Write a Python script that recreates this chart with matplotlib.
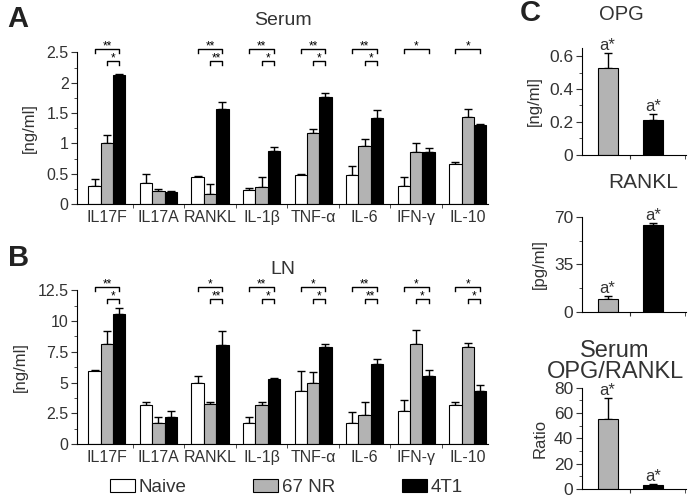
import matplotlib.pyplot as plt
import matplotlib.transforms as mtransforms
from matplotlib.ticker import MultipleLocator
from matplotlib.patches import Patch
import numpy as np

plt.rcParams['font.family'] = ['Liberation Sans', 'DejaVu Sans']
plt.rcParams['text.color'] = '#333333'
plt.rcParams['axes.labelcolor'] = '#333333'
plt.rcParams['xtick.color'] = '#333333'
plt.rcParams['ytick.color'] = '#333333'

cytokines = ['IL17F', 'IL17A', 'RANKL', 'IL-1β', 'TNF-α', 'IL-6', 'IFN-γ', 'IL-10']
groups = ['Naive', '67 NR', '4T1']
colors = ['white', '#b3b3b3', 'black']

# serum, ng/ml
serum_naive = [0.30, 0.35, 0.45, 0.23, 0.48, 0.48, 0.30, 0.66]
serum_67nr = [1.01, 0.22, 0.16, 0.29, 1.17, 0.95, 0.86, 1.43]
serum_4t1 = [2.13, 0.20, 1.57, 0.88, 1.77, 1.42, 0.86, 1.30]
serum_naive_err = [0.12, 0.14, 0.02, 0.03, 0.02, 0.15, 0.15, 0.03]
serum_67nr_err = [0.13, 0.03, 0.18, 0.15, 0.06, 0.13, 0.15, 0.13]
serum_4t1_err = [0.01, 0.01, 0.12, 0.06, 0.06, 0.13, 0.06, 0.02]
serum_sig_all = ['**', None, '**', '**', '**', '**', '*', '*']
serum_sig_67 = ['*', None, '**', '*', '*', '*', None, None]

# lymph node, ng/ml
ln_naive = [5.9, 3.2, 5.0, 1.7, 4.35, 1.7, 2.7, 3.2]
ln_67nr = [8.1, 1.7, 3.3, 3.15, 4.95, 2.35, 8.1, 7.85]
ln_4t1 = [10.6, 2.2, 8.05, 5.3, 7.85, 6.5, 5.55, 4.35]
ln_naive_err = [0.1, 0.25, 0.5, 0.5, 1.55, 0.9, 0.85, 0.25]
ln_67nr_err = [1.1, 0.5, 0.15, 0.25, 0.9, 1.05, 1.15, 0.35]
ln_4t1_err = [0.45, 0.5, 1.1, 0.05, 0.3, 0.45, 0.45, 0.45]
ln_sig_all = ['**', None, '*', '**', '*', '**', '*', '*']
ln_sig_67 = ['*', None, '**', '*', '*', '**', '*', '*']

# panel C
opg = [0.53, 0.21]
opg_err = [0.09, 0.04]
rankl = [9.4, 64.2]
rankl_err = [2.2, 1.1]
ratio = [55, 3.4]
ratio_err = [17, 0.3]

fig = plt.figure(figsize=(7, 5.03), dpi=100)

x = np.arange(len(cytokines))
width = 0.24


def cytokine_panel(ax, vals, errs, sig_all, sig_67, ymax, major, minor, title, tpad):
    for i, (v, e) in enumerate(zip(vals, errs)):
        pos = x + (i - 1) * width
        ax.bar(pos, v, width, color=colors[i], edgecolor='black', linewidth=0.8, zorder=2)
        ax.errorbar(pos, v, yerr=[np.zeros(len(v)), e], fmt='none', ecolor='black',
                    elinewidth=1, capsize=3, capthick=1, zorder=1)
    trans = mtransforms.blended_transform_factory(ax.transData, ax.transAxes)
    for k in range(len(cytokines)):
        for sig, x0, yb in ((sig_all[k], x[k] - width, 1.02), (sig_67[k], x[k], 0.94)):
            if sig is None:
                continue
            x1 = x[k] + width
            ax.plot([x0, x0, x1, x1], [yb - 0.025, yb, yb, yb - 0.025], color='black',
                    lw=1, transform=trans, clip_on=False)
            ax.text((x0 + x1) / 2, yb - 0.02, sig, ha='center', va='bottom', fontsize=8.5,
                    transform=trans, color='black')
    ax.set_xlim(-0.58, 7.39)
    ax.set_ylim(0, ymax)
    ax.yaxis.set_major_locator(MultipleLocator(major))
    ax.yaxis.set_minor_locator(MultipleLocator(minor))
    ax.yaxis.set_major_formatter(plt.FuncFormatter(lambda v, p: f'{v:g}'))
    ax.set_xticks(x, cytokines, fontsize=11.5)
    ax.set_xticks(x[:-1] + 0.5, minor=True)
    ax.tick_params(axis='x', which='major', length=0, pad=4)
    ax.tick_params(axis='x', which='minor', length=3)
    ax.tick_params(axis='y', labelsize=11.5, length=4, pad=2)
    ax.tick_params(axis='y', which='minor', length=2)
    ax.spines[['top', 'right']].set_visible(False)
    ax.set_ylabel('[ng/ml]', fontsize=12, labelpad=7)
    ax.set_title(title, fontsize=14, pad=tpad)


ax_a = fig.add_axes([0.110, 0.594, 0.587, 0.302])
cytokine_panel(ax_a, [serum_naive, serum_67nr, serum_4t1],
               [serum_naive_err, serum_67nr_err, serum_4t1_err],
               serum_sig_all, serum_sig_67, 2.5, 0.5, 0.25, 'Serum', 20)

ax_b = fig.add_axes([0.110, 0.117, 0.587, 0.306])
cytokine_panel(ax_b, [ln_naive, ln_67nr, ln_4t1],
               [ln_naive_err, ln_67nr_err, ln_4t1_err],
               ln_sig_all, ln_sig_67, 12.5, 2.5, 1.25, 'LN', 12)


def small_panel(rect, vals, errs, ymax, major, minor, ylabel, title, tsize, tpad, tx):
    ax = fig.add_axes(rect)
    pos = np.arange(2)
    ax.bar(pos, vals, 0.44, color=colors[1:], edgecolor='black', linewidth=0.8, zorder=2)
    ax.errorbar(pos, vals, yerr=[np.zeros(2), errs], fmt='none', ecolor='black',
                elinewidth=1, capsize=3, capthick=1, zorder=1)
    for p, v, e in zip(pos, vals, errs):
        ax.text(p, v + e, 'a*', ha='center', va='bottom', fontsize=12)
    ax.set_xlim(-0.57, 1.73)
    ax.set_ylim(0, ymax)
    ax.yaxis.set_major_locator(MultipleLocator(major))
    ax.yaxis.set_minor_locator(MultipleLocator(minor))
    ax.yaxis.set_major_formatter(plt.FuncFormatter(lambda v, p: f'{v:g}'))
    ax.set_xticks([0.5], [''])
    ax.set_xticks([1.7], minor=True)
    ax.tick_params(axis='x', which='both', length=3)
    ax.tick_params(axis='y', labelsize=12.5, length=4, pad=2)
    ax.tick_params(axis='y', which='minor', length=2)
    ax.spines[['top', 'right']].set_visible(False)
    ax.set_ylabel(ylabel, fontsize=12, labelpad=5)
    ax.set_title(title, fontsize=tsize, pad=tpad, x=tx, linespacing=0.92)
    return ax


small_panel([0.831, 0.692, 0.149, 0.213], opg, opg_err, 0.65, 0.2, 0.1,
            '[ng/ml]', 'OPG', 14.5, 20, 0.385)
small_panel([0.831, 0.380, 0.149, 0.189], rankl, rankl_err, 70, 35, 17.5,
            '[pg/ml]', 'RANKL', 15, 21, 0.59)
small_panel([0.831, 0.028, 0.149, 0.201], ratio, ratio_err, 80, 20, 10,
            'Ratio', 'Serum\nOPG/RANKL', 17, 7, 0.32)

fig.text(0.011, 0.962, 'A', fontsize=21, fontweight='bold', va='center', color='#222222')
fig.text(0.011, 0.487, 'B', fontsize=21, fontweight='bold', va='center', color='#222222')
fig.text(0.743, 0.975, 'C', fontsize=21, fontweight='bold', va='center', color='#222222')

handles = [Patch(facecolor=c, edgecolor='black', linewidth=0.8) for c in colors]
fig.legend(handles, groups, loc='center', bbox_to_anchor=(0.409, 0.030), ncol=3,
           frameon=False, fontsize=13.5, handlelength=1.33, handleheight=0.7,
           handletextpad=0.2, columnspacing=3.55)

fig.savefig('out.png', dpi=100)
